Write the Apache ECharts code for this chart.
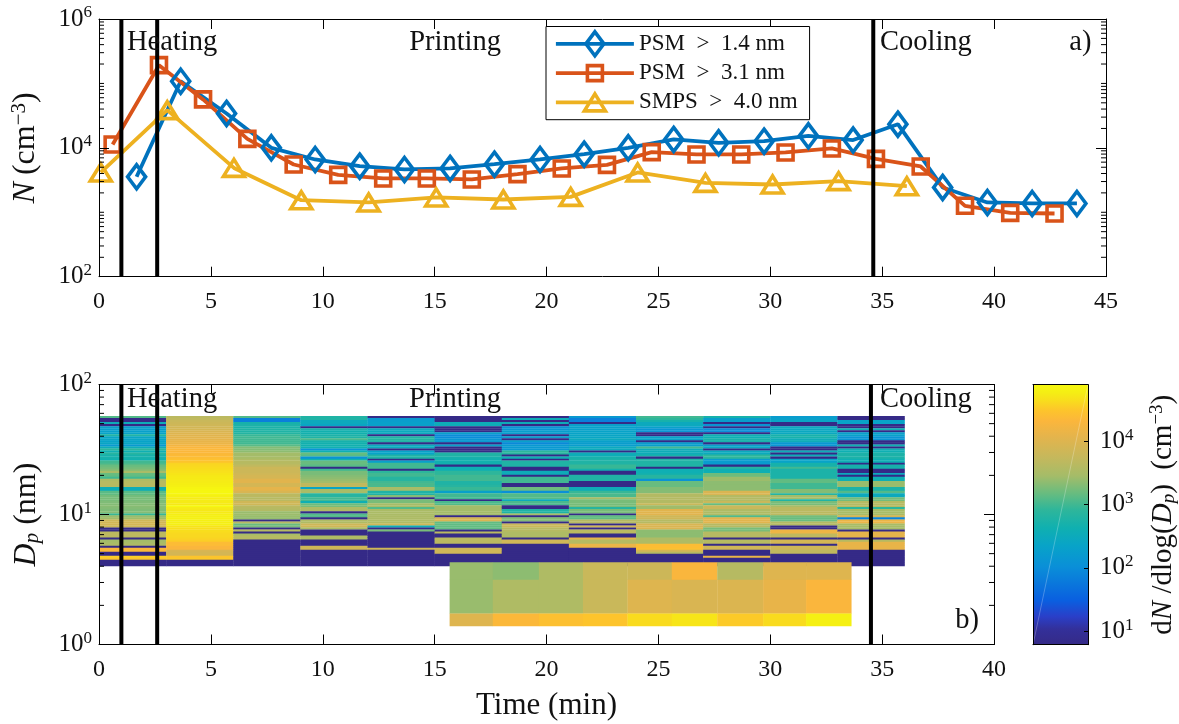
<!DOCTYPE html>
<html><head><meta charset="utf-8">
<style>html,body{margin:0;padding:0;background:#fff}#c{width:1179px;height:724px}</style>
<script src="https://cdn.jsdelivr.net/npm/echarts@6/dist/echarts.min.js"></script>
</head><body><div id="c"></div>
<script>
// ---------- panel a) number concentration (cm^-3) ----------
const psm14Time = [1.68,3.65,5.7,7.7,9.66,11.65,13.65,15.69,17.67,19.71,21.68,23.65,25.68,27.69,29.72,31.7,33.7,35.7,37.7,39.7,41.7,43.7];
const psm14 = [3550,108000,34200,10000,6600,5200,4620,4790,5580,6600,7980,10000,13500,11950,12700,15350,13200,23300,2430,1420,1370,1370];
const psm31Time = [0.61,2.68,4.65,6.63,8.7,10.69,12.7,14.65,16.66,18.7,20.68,22.7,24.7,26.7,28.7,30.68,32.75,34.72,36.72,38.7,40.72,42.7];
const psm31 = [11300,192000,56500,13800,5520,3810,3350,3350,3230,3910,4790,5450,8570,7900,7900,8490,9790,6750,5140,1260,980,957];
const smpsTime = [0.08,3.05,6.03,9.04,12.05,15.07,18.07,21.08,24.07,27.1,30.1,33.05,36.1];
const smps40 = [4150,38500,4880,1540,1420,1700,1580,1735,4150,2860,2700,3040,2540];
const seriesNames = ['PSM  >  1.4 nm','PSM  >  3.1 nm','SMPS  >  4.0 nm'];
const phaseMarksA = [1,2.6,34.6];
const phaseMarksB = [1,2.6,34.5];

// ---------- panel b) SMPS size distribution ----------
const smpsColumnEdges = [0,3,6,9,12,15,18,21,24,27,30,33,36];
const smpsDpEdges = [57.2,55.2,53.3,51.4,49.6,47.8,46.1,44.5,42.9,41.4,
 40.0,38.6,37.2,35.9,34.6,33.4,32.2,31.1,30.0,28.9,
 27.9,26.9,26.0,25.0,24.2,23.3,22.5,21.7,20.9,20.2,
 19.5,18.8,18.1,17.5,16.9,16.3,15.7,15.2,14.6,14.1,
 13.6,13.1,12.7,12.2,11.8,11.4,11.0,10.6,10.2,9.85,
 9.51,9.17,8.85,8.53,8.23,7.94,7.66,7.39,7.13,6.88,
 6.64,6.41,6.18,5.96,5.75,5.55,5.35,5.16,4.98,4.81,
 4.64,4.48,4.32,4.17,4.02];
const smps00 = [1200,6,6,350,6,200,180,200,220,600,
 250,250,220,250,150,350,800,400,700,500,
 500,450,1000,1100,1500,1700,2000,3000,1500,1400,
 1000,3500,4000,4200,4000,350,350,1300,1400,1700,
 1800,1800,1900,2000,2100,2000,1900,2000,900,2500,
 2700,7000,7500,8000,6500,6,6,4500,4800,4500,
 6,2800,3000,3500,6,20000,22000,6,6,35000,
 30000,6,6,6];
const smps03 = [4500,5000,6000,6500,7000,7500,8000,9000,10000,11000,
 11500,12000,13000,14000,17000,20000,21000,21000,22000,23000,
 25000,28000,30000,38000,40000,42000,44000,46000,50000,52000,
 54000,55000,56000,58000,62000,70000,74000,76000,72000,62000,
 55000,56000,55000,52000,78000,55000,52000,54000,58000,60000,
 62000,60000,58000,60000,48000,45000,44000,42000,40000,40000,
 38000,35000,24000,24000,20000,20000,9000,8000,8000,30000,
 32000,6,6,6];
const smps06 = [1200,70,70,500,550,550,600,600,650,900,
 1000,1000,1000,1000,1300,2000,2000,2200,2800,2800,
 3000,3600,4000,4000,5000,6500,6500,6500,7000,8000,
 8000,11000,11000,8000,8000,12000,12000,9000,4500,4500,
 4000,4500,7000,7000,4500,4000,3800,2500,2600,2500,
 2400,6,4000,1500,1800,6,4000,6,3000,4000,
 4000,6,6,6,6,6,6,6,6,6,
 6,6,6,6];
const smps09 = [600,600,300,300,250,6,500,450,450,550,
 600,1100,500,450,450,420,120,400,1500,1300,
 120,450,1500,1500,1300,6,1000,1800,1800,2000,
 2200,2500,2800,5000,5000,250,3000,3000,700,700,
 1000,1000,400,1600,1800,3500,3500,6,1200,1200,
 6,3500,3500,7000,7000,3000,6,6,6,3500,
 3500,6,6,6,7000,7000,6,6,6,6,
 6,6,6,6];
const smps12 = [6,150,180,200,200,6,300,300,300,6,
 600,650,600,6,300,300,6,220,220,600,
 600,6,200,1000,1000,1000,6,800,1000,1000,
 700,700,1000,1100,1100,3000,3000,600,600,2000,
 6,1800,1800,3000,3000,1200,3200,3200,3200,3300,
 3300,3500,3500,7000,350,6,1800,6,6,6,
 6,6,6,6,6,7000,6,6,6,6,
 6,6,6,6];
const smps15 = [6,6,6,350,350,6,6,6,200,100,
 100,130,150,6,200,6,6,6,600,600,
 500,450,450,450,6,400,400,800,800,1000,
 1000,1000,600,600,700,900,900,200,1000,1000,
 1000,6,1100,1200,2800,2800,2800,2800,2800,6,
 8000,9000,1400,1400,1400,1400,6,4500,6,6,
 4500,4500,4500,6,6,7000,7000,7000,6,6,
 6,6,6,6];
const smps18 = [6,350,6,350,6,130,130,180,180,6,
 180,6,200,90,150,150,150,800,700,6,
 400,6,600,600,600,6,6,350,350,6,
 1000,1000,1000,6,6,1600,1600,110,1200,1200,
 1200,300,1100,1100,6,6,600,600,3000,6,
 2000,2000,6,6000,6000,4000,4000,3500,3500,3500,
 6,7000,7000,6,6,6,6,6,6,6,
 6,6,6,6];
const smps21 = [150,70,70,6,200,200,200,220,220,250,
 250,300,200,180,180,300,300,6,350,350,
 500,550,600,600,900,900,450,6,6,600,
 600,600,6,6,6,350,350,900,1100,1100,
 3000,1800,1800,1800,1800,700,1800,1800,6,1400,
 1400,4000,4000,6,7000,6,4500,4500,6,6,
 12000,4000,4000,14000,14000,6,6,6,6,6,
 6,6,6,6];
const smps24 = [1000,800,500,300,300,200,130,130,6,6,
 220,220,6,180,180,1000,350,350,350,500,
 6,600,600,600,600,6,400,400,450,700,
 700,120,1500,1500,1500,2000,2000,2000,3800,3800,
 3800,3800,3800,6000,2700,2700,11000,11000,11000,7000,
 7000,4000,4000,9000,9000,9000,2200,2200,2200,2200,
 3500,3500,3500,25000,25000,27000,8000,4000,6,6,
 6,6,6,6];
const smps27 = [500,180,180,6,130,6,100,100,6,400,
 400,500,500,6,200,250,6,300,300,800,
 800,170,170,170,6,700,400,400,1600,1600,
 2600,2600,2200,2200,2200,2200,2200,9000,9000,3800,
 3800,3800,6000,1500,6000,6000,3500,3500,3500,1200,
 11000,11000,11000,4000,4000,1800,1800,4000,4000,4000,
 6,4000,4000,6,7000,7000,6,6,6,14000,
 6,6,6,6];
const smps30 = [170,200,250,6,6,300,280,280,280,500,
 500,350,350,140,140,6,6,350,6,350,
 6,220,220,500,500,1000,550,550,550,550,
 550,1400,1400,1000,1000,1000,2000,2000,700,2800,
 2800,600,1800,1800,3000,4500,4500,4500,4500,1700,
 1500,1500,3800,3800,6,6,15000,15000,5000,5000,
 6,8000,8000,6,7000,7000,5000,5000,6,6,
 6,6,6,6];
const smps33 = [6,6,230,230,6,6,400,6,200,200,
 130,130,6,6,400,6,400,400,550,550,
 550,400,400,6,500,500,6,6,300,6,
 400,400,2500,2500,2500,550,550,1200,300,300,
 1700,1700,4000,4000,4000,800,3000,3000,3000,8000,
 80,14000,14000,3000,3000,3000,6,12000,12000,12000,
 6,4000,13000,13000,13000,13000,6,6,6,6,
 6,6,6,6];
const smpsColumns = [smps00,smps03,smps06,smps09,smps12,smps15,smps18,smps21,smps24,smps27,smps30,smps33];

// ---------- panel b) PSM size distribution ----------
const psmColumnEdges = [15.67,17.6,19.66,21.63,23.62,25.6,27.63,29.68,31.6,33.62];
const psmDpEdges = [4.3,3.15,1.73,1.39];
const psmTop = [2500,2200,3500,6000,6500,20000,4000,10000,10000];
const psmMid = [2500,3500,3500,6000,10000,9000,9500,13000,20000];
const psmLow = [10000,22000,27000,30000,42000,50000,33000,42000,62000];

// ---------- axis ticks ----------
const decadesA = [100,1000,10000,100000];
const decadesB = [1,10];
const minorMultipliers = [2,3,4,5,6,7,8,9];
const oddDecadesA = [1000,100000];
const colorbarTicks = [10,100,1000,10000];
const colorbarMin = 6.14, colorbarMax = 77400;

// ---------- styling ----------
const FONT = '"Liberation Serif","Times New Roman",serif';
const colourStops = [[0,'#352a87'],[.06,'#33309a'],[.108,'#2a3fc8'],[.17,'#0a5fe0'],[.3,'#0a8fd8'],[.38,'#08a3c8'],[.45,'#10b0b0'],[.52,'#2fb69a'],[.58,'#66bc80'],[.65,'#a5bc68'],[.72,'#c5b85c'],[.8,'#e4b44c'],[.86,'#fbb63c'],[.9,'#fdc42c'],[.94,'#f8de1c'],[.97,'#f5ee14'],[1,'#f6f810']];
function hexRgb(h){return [1,3,5].map(i=>parseInt(h.substr(i,2),16));}
const logMin = Math.log10(colorbarMin), logMax = Math.log10(colorbarMax);
function colourOf(v){
  const t = Math.min(1,Math.max(0,(Math.log10(v)-logMin)/(logMax-logMin)));
  for(let i=1;i<colourStops.length;i++){
    if(t<=colourStops[i][0]){
      const a=colourStops[i-1],b=colourStops[i],f=(t-a[0])/(b[0]-a[0]);
      const ca=hexRgb(a[1]),cb=hexRgb(b[1]);
      return 'rgb('+ca.map((c,k)=>Math.round(c+(cb[k]-c)*f)).join(',')+')';
    }
  }
  return colourStops[colourStops.length-1][1];
}
const richTick = {
  b:{fontFamily:FONT,fontSize:25,color:'#111'},
  s:{fontFamily:FONT,fontSize:17,color:'#111',padding:[0,0,12,0]}
};
function powLabel(v){return '{b|10}{s|'+Math.round(Math.log10(v))+'}';}

// Marker outlines: every path shares one 27x27 box so the plot and legend keep the same proportions.
const BOX = 'M0 0L0 0M27 27L27 27';
const diamondPath = 'path://'+BOX+'M13.5 1.5L22.5 13.5L13.5 25.5L4.5 13.5Z';
const squarePath = 'path://'+BOX+'M6 6L21 6L21 21L6 21Z';
const trianglePath = 'path://'+BOX+'M13.5 5L24 22L3 22Z';

// ---------- marks ----------
const heatCells = [];
smpsColumns.forEach((col,c)=>col.forEach((v,r)=>{
  heatCells.push([smpsColumnEdges[c],smpsColumnEdges[c+1],smpsDpEdges[r+1],smpsDpEdges[r],v]);
}));
[psmTop,psmMid,psmLow].forEach((row,r)=>row.forEach((v,c)=>{
  heatCells.push([psmColumnEdges[c],psmColumnEdges[c+1],psmDpEdges[r+1],psmDpEdges[r],v]);
}));
function heatItem(params,api){
  const a=api.coord([api.value(0),api.value(3)]), b=api.coord([api.value(1),api.value(2)]);
  const x=a[0], y=a[1];
  return {type:'rect',shape:{x:x,y:y,width:b[0]-x+0.3,height:b[1]-y+0.3},style:{fill:colourOf(api.value(4))}};
}
function vLineItem(params,api){
  const top=api.coord([api.value(0),api.value(1)]), bot=api.coord([api.value(0),api.value(2)]);
  return {type:'line',shape:{x1:top[0],y1:top[1],x2:bot[0],y2:bot[1]},style:{stroke:'#000',lineWidth:4}};
}
function minorItem(params,api){
  const r=params.coordSys, y=api.coord([api.value(0),api.value(1)])[1];
  const k=r.x, e=r.x+r.width;
  return {type:'group',children:[
    {type:'line',shape:{x1:k,y1:y,x2:k+5,y2:y},style:{stroke:'#000',lineWidth:1}},
    {type:'line',shape:{x1:e-5,y1:y,x2:e,y2:y},style:{stroke:'#000',lineWidth:1}}]};
}
function product(dec,mul){const o=[];dec.forEach(d=>mul.forEach(m=>o.push([0,d*m])));return o;}
function noteSeries(x,y,idx,notes){
  return {type:'custom',xAxisIndex:x,yAxisIndex:y,coordinateSystem:'cartesian2d',clip:false,z:6,silent:true,
    encode:{x:0,y:1},data:notes.map(n=>[n[0],n[1]]),
    renderItem(params,api){
      const p=api.coord([api.value(0),api.value(1)]);
      return {type:'text',x:p[0],y:p[1],style:{text:notes[params.dataIndex][2],fontFamily:FONT,fontSize:28.5,fill:'#111',verticalAlign:'middle',align:'left'}};
    }};
}
const notesA=[[1.25,436000,'Heating'],[13.86,436000,'Printing'],[34.9,436000,'Cooling'],[43.36,436000,'a)']];
const notesB=[[1.25,76,'Heating'],[13.86,76,'Printing'],[34.9,76,'Cooling'],[38.27,1.52,'b)']];

function lineSeries(name,xs,ys,color,symbol){
  return {name,type:'line',xAxisIndex:0,yAxisIndex:0,data:xs.map((x,i)=>[x,ys[i]]),clip:false,z:3,
    symbol,symbolSize:27,showAllSymbol:true,symbolKeepAspect:false,
    lineStyle:{color,width:3.8},
    itemStyle:{color:'rgba(255,255,255,0)',borderColor:color,borderWidth:3.6}};
}
function xAx(grid,pos,max,show,name){
  return {type:'value',gridIndex:grid,position:pos,min:0,max,interval:5,
    axisLine:{show:true,onZero:false,lineStyle:{color:'#000',width:1}},
    axisTick:{show:true,inside:true,length:10,lineStyle:{color:'#000',width:1}},
    splitLine:{show:false},z:5,
    axisLabel:{show,fontFamily:FONT,fontSize:24,color:'#111',margin:13,showMinLabel:true,showMaxLabel:true},
    name:name||'',nameLocation:'middle',nameGap:46,nameTextStyle:{fontFamily:FONT,fontSize:31,color:'#111'}};
}
function yAx(grid,pos,min,max,interval,show,name,gap,rich){
  return {type:'log',logBase:10,gridIndex:grid,position:pos,min,max,interval,
    axisLine:{show:true,onZero:false,lineStyle:{color:'#000',width:1}},
    axisTick:{show:true,inside:true,length:10,lineStyle:{color:'#000',width:1}},
    splitLine:{show:false},minorTick:{show:false},z:5,
    axisLabel:{show,formatter:powLabel,rich:richTick,margin:7,showMinLabel:true,showMaxLabel:true},
    name:name||'',nameLocation:'middle',nameGap:gap||0,nameRotate:90,
    nameTextStyle:{rich:rich||{},fontFamily:FONT,fontSize:28,color:'#111'}};
}
const nameRich={
  i:{fontFamily:FONT,fontSize:32,fontStyle:'italic',color:'#111'},
  r:{fontFamily:FONT,fontSize:32,color:'#111'},
  s:{fontFamily:FONT,fontSize:21,color:'#111',padding:[0,0,13,0]},
  u:{fontFamily:FONT,fontSize:21,fontStyle:'italic',color:'#111',padding:[11,0,0,0]}
};
const barRich={
  i:{fontFamily:FONT,fontSize:29,fontStyle:'italic',color:'#111'},
  r:{fontFamily:FONT,fontSize:29,color:'#111'},
  s:{fontFamily:FONT,fontSize:19,color:'#111',padding:[0,0,12,0]},
  u:{fontFamily:FONT,fontSize:19,fontStyle:'italic',color:'#111',padding:[10,0,0,0]}
};

const barRight = yAx(2,'right',colorbarMin,colorbarMax,1,true,'{r|d}{i|N}{r| /dlog(}{i|D}{u|p}{r|)  (cm}{s|−3}{r|)}',60,barRich);
barRight.axisLabel.customValues = colorbarTicks;
barRight.axisTick.customValues = colorbarTicks;
barRight.axisTick.length = 4;
barRight.axisLabel.margin = 12;
const barLeft = yAx(2,'left',colorbarMin,colorbarMax,1,false);
barLeft.axisTick.show=false;

const option = {
  animation:false,
  backgroundColor:'#fff',
  textStyle:{fontFamily:FONT},
  grid:[
    {left:99,top:19,width:1007,height:257.7},
    {left:99,top:384.5,width:895,height:260},
    {left:1033,top:384.7,width:55,height:260}
  ],
  legend:{
    data:seriesNames,left:546,top:26.5,orient:'vertical',
    backgroundColor:'#fff',borderColor:'#000',borderWidth:1,
    padding:[2,12,2,8],itemWidth:78,itemHeight:33.75,itemGap:-1.3,
    itemStyle:{borderWidth:3.6},lineStyle:{width:3.8},
    textStyle:{fontFamily:FONT,fontSize:23,color:'#111'},z:10
  },
  xAxis:[
    xAx(0,'bottom',45,true),
    xAx(0,'top',45,false),
    xAx(1,'bottom',40,true,'Time (min)'),
    xAx(1,'top',40,false),
    Object.assign(xAx(2,'bottom',1,false),{interval:1,axisTick:{show:false}}),
    Object.assign(xAx(2,'top',1,false),{interval:1,axisTick:{show:false}})
  ],
  yAxis:[
    yAx(0,'left',100,1e6,2,true,'{i|N} {r|(cm}{s|−3}{r|)}',56,nameRich),
    yAx(0,'right',100,1e6,2,false),
    yAx(1,'left',1,100,1,true,'{i|D}{u|p}{r| (nm)}',56,nameRich),
    yAx(1,'right',1,100,1,false),
    barRight,
    barLeft
  ],
  series:[
    lineSeries(seriesNames[0],psm14Time,psm14,'#0072BD',diamondPath),
    lineSeries(seriesNames[1],psm31Time,psm31,'#D95319',squarePath),
    lineSeries(seriesNames[2],smpsTime,smps40,'#EDB120',trianglePath),
    {type:'custom',xAxisIndex:0,yAxisIndex:0,coordinateSystem:'cartesian2d',z:4,silent:true,encode:{x:0,y:1},
      data:phaseMarksA.map(x=>[x,1e6,100]),renderItem:vLineItem},
    {type:'custom',xAxisIndex:2,yAxisIndex:2,coordinateSystem:'cartesian2d',z:4,silent:true,encode:{x:0,y:1},
      data:phaseMarksB.map(x=>[x,100,1]),renderItem:vLineItem},
    {type:'custom',xAxisIndex:2,yAxisIndex:2,coordinateSystem:'cartesian2d',z:2,silent:true,
      encode:{x:[0,1],y:[2,3]},data:heatCells,renderItem:heatItem},
    {type:'custom',xAxisIndex:0,yAxisIndex:0,coordinateSystem:'cartesian2d',z:5,silent:true,encode:{x:0,y:1},
      data:product(decadesA,minorMultipliers).concat(oddDecadesA.map(d=>[0,d])),renderItem:minorItem},
    {type:'custom',xAxisIndex:2,yAxisIndex:2,coordinateSystem:'cartesian2d',z:5,silent:true,encode:{x:0,y:1},
      data:product(decadesB,minorMultipliers),renderItem:minorItem},
    {type:'custom',xAxisIndex:4,yAxisIndex:4,coordinateSystem:'cartesian2d',z:2,silent:true,encode:{x:0,y:1},
      data:[[0,colorbarMax,1,colorbarMin]],
      renderItem(params,api){
        const a=api.coord([api.value(0),api.value(1)]), b=api.coord([api.value(2),api.value(3)]);
        return {type:'rect',shape:{x:a[0],y:a[1],width:b[0]-a[0],height:b[1]-a[1]},
          style:{fill:new echarts.graphic.LinearGradient(0,1,0,0,colourStops.map(s=>({offset:s[0],color:s[1]})))}};
      }},
    {type:'line',xAxisIndex:4,yAxisIndex:4,z:3,symbol:'none',silent:true,
      data:[[0,colorbarMin],[1,colorbarMax]],lineStyle:{color:'rgba(255,255,255,0.25)',width:1}},
    noteSeries(0,0,0,notesA),
    noteSeries(2,2,0,notesB)
  ]
};
const chart = echarts.init(document.getElementById('c'),null,{renderer:'canvas'});
chart.setOption(option);
</script></body></html>
